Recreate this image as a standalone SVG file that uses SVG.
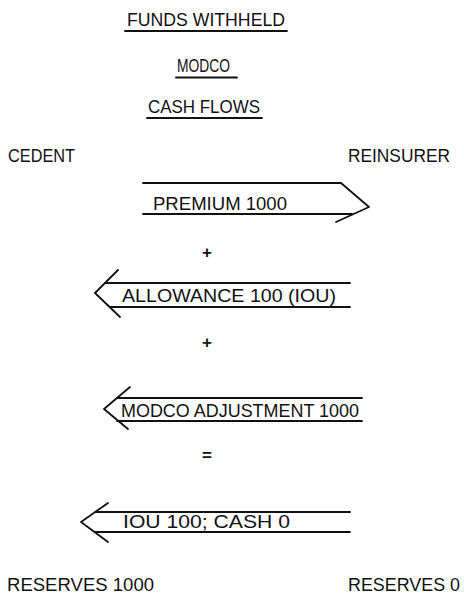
<svg xmlns="http://www.w3.org/2000/svg" width="464" height="599" viewBox="0 0 464 599">
<style>
  .t { font-family: "Liberation Sans", "DejaVu Sans", sans-serif; font-size: 18.5px; fill: #111; }
  .op { font-family: "Liberation Sans", "DejaVu Sans", sans-serif; font-size: 17px; font-weight: bold; fill: #111; text-anchor: middle; }
  .ln { stroke: #111; stroke-width: 1.8; fill: none; stroke-linecap: round; stroke-linejoin: round; }
</style>
<rect width="464" height="599" fill="#fff"/>

<g id="title">
  <text class="t" x="127" y="26" textLength="158" lengthAdjust="spacingAndGlyphs">FUNDS WITHHELD</text>
  <line class="ln" x1="125" y1="31" x2="287" y2="31"/>
  <text class="t" x="177" y="72" textLength="53" lengthAdjust="spacingAndGlyphs">MODCO</text>
  <line class="ln" x1="176" y1="77.5" x2="237" y2="77.5"/>
  <text class="t" x="148" y="113" textLength="112" lengthAdjust="spacingAndGlyphs">CASH FLOWS</text>
  <line class="ln" x1="147" y1="118" x2="262" y2="118"/>
</g>

<g id="cedent">
  <text class="t" x="8" y="162" textLength="67" lengthAdjust="spacingAndGlyphs">CEDENT</text>
  <text class="t" x="7" y="591" textLength="147" lengthAdjust="spacingAndGlyphs">RESERVES 1000</text>
</g>

<g id="reinsurer">
  <text class="t" x="348" y="162" textLength="102" lengthAdjust="spacingAndGlyphs">REINSURER</text>
  <text class="t" x="348" y="591" textLength="112" lengthAdjust="spacingAndGlyphs">RESERVES 0</text>
</g>

<g id="operators">
  <text class="op" x="207" y="258">+</text>
  <text class="op" x="207" y="348">+</text>
  <text class="op" x="207" y="461">=</text>
</g>

<g id="connectors">
  <g id="premium">
    <path class="ln" d="M143,183 H341 L369,207 L336,222 M143,214 H352"/>
    <text class="t" x="153" y="210" textLength="134" lengthAdjust="spacingAndGlyphs">PREMIUM 1000</text>
  </g>
  <g id="allowance">
    <path class="ln" d="M118,270 L95,293 L120,317 M106,283 H350 M110,307 H350"/>
    <text class="t" x="122" y="302" textLength="214" lengthAdjust="spacingAndGlyphs">ALLOWANCE 100 (IOU)</text>
  </g>
  <g id="modco-adjustment">
    <path class="ln" d="M130,387 L104,409 L128,429 M117,398 H362 M117,421 H362"/>
    <text class="t" x="121" y="417" textLength="238" lengthAdjust="spacingAndGlyphs">MODCO ADJUSTMENT 1000</text>
  </g>
  <g id="iou">
    <path class="ln" d="M108,503 L81,522 L108,542 M95,512 H350 M95,532 H350"/>
    <text class="t" x="123" y="528" textLength="167" lengthAdjust="spacingAndGlyphs">IOU 100; CASH 0</text>
  </g>
</g>
</svg>
